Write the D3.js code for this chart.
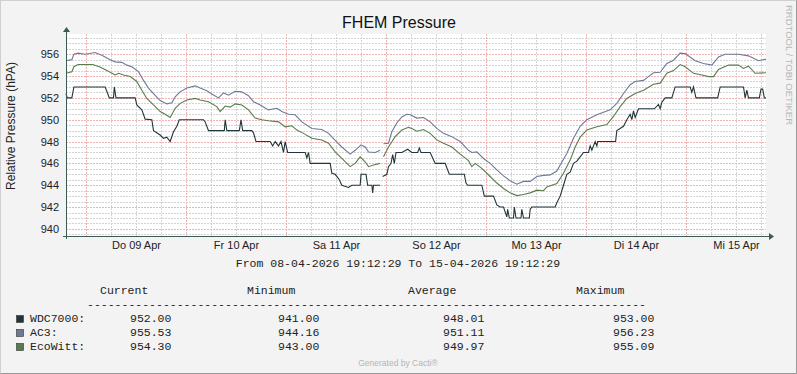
<!DOCTYPE html>
<html>
<head>
<meta charset="utf-8">
<script src="https://cdn.jsdelivr.net/npm/d3@7"></script>
<style>
  body { margin: 0; background: #f3f3f3; }
  svg { display: block; }
</style>
</head>
<body>
<script>

// time range of the graph (one week)
var startTime = new Date(2026, 3, 8, 19, 12, 29);
var endTime = new Date(2026, 3, 15, 19, 12, 29);

var dayLabels = ["Do 09 Apr", "Fr 10 Apr", "Sa 11 Apr", "So 12 Apr", "Mo 13 Apr", "Di 14 Apr", "Mi 15 Apr"];
var yTicks = [940, 942, 944, 946, 948, 950, 952, 954, 956];

var seriesNames = ["WDC7000:", "AC3:", "EcoWitt:"];
var seriesColors = ["#22363a", "#6d7a95", "#5b7b4e"];
var legendHeader = ["Current", "Minimum", "Average", "Maximum"];
var legendCurrent = ["952.00", "955.53", "954.30"];
var legendMinimum = ["941.00", "944.16", "943.00"];
var legendAverage = ["948.01", "951.11", "949.97"];
var legendMaximum = ["953.00", "956.23", "955.09"];

// [hours since start, hPa] - null marks missing data
var wdc7000 = [
	[0, 952.4], [0.3, 952], [1.4, 952], [1.9, 953], [9.4, 953], [10.4, 952], [11.4, 952],
	[11.6, 953], [12.0, 952], [16.6, 952], [17.0, 951.35], [18.2, 950.9], [19.0, 950.05],
	[20.6, 950], [21.0, 949], [22.6, 948.6], [23.4, 948.3], [24.2, 948.4], [25.0, 948],
	[25.8, 948.9], [26.6, 949.4], [27.2, 950], [33.0, 950], [33.4, 949.8], [34.2, 949],
	[38.0, 949], [38.2, 950], [38.6, 949], [41.6, 949], [42.0, 950], [42.4, 949], [44.6, 949],
	[45.0, 948.8], [45.6, 948], [49.0, 948], [49.6, 947.6], [50.2, 948], [51.0, 947.6],
	[51.6, 948], [52.2, 947], [52.6, 948], [53.2, 947], [57.4, 947], [57.8, 946.5],
	[58.2, 947], [58.6, 946], [63.4, 946], [63.8, 945.1], [64.6, 945], [65.6, 944.5],
	[66.2, 944], [67.8, 943.8], [68.6, 944], [70.6, 944], [70.8, 945], [72.0, 945],
	[72.4, 944], [73.4, 944], [73.6, 943.3], [73.8, 944], [75.4, 944],
	[75.8, null],
	[76.0, 944.8], [77.0, 945], [77.4, 945.7], [78.0, 946], [78.4, 946.8], [78.8, 946],
	[79.2, 947], [80.6, 947], [82.0, 947.3], [83.0, 947], [84.4, 947], [84.8, 947.4],
	[85.2, 947], [87.4, 947], [88.6, 946], [91.0, 946], [91.6, 945.4], [92.0, 945],
	[95.6, 945], [96.0, 944.2], [96.4, 944], [99.8, 944], [100.4, 943], [102.6, 943],
	[103.4, 942.2], [104.2, 942], [105.0, 942], [105.8, 941.1], [106.0, 941.8], [106.4, 941],
	[107.4, 941], [107.6, 942], [108.0, 941], [109.2, 941], [109.4, 941.8], [109.8, 941],
	[111.2, 941], [111.4, 941.8], [111.8, 942], [117.4, 942], [117.8, 942.4], [118.6, 943],
	[119.4, 944], [120.2, 945], [121.0, 945.2], [121.8, 946], [122.6, 946.2], [123.4, 946.6],
	[124.2, 947], [125.4, 947], [125.8, 947.6], [126.2, 947.2], [127.0, 948], [127.4, 947.6],
	[127.6, 948], [131.9, 948], [132.2, 949], [133.8, 949.4], [134.6, 950], [135.4, 950.5],
	[135.8, 950], [136.2, 950.8], [136.6, 950.2], [137.4, 951], [141.2, 951], [142.2, 951.4],
	[142.6, 951], [143.0, 951.6], [143.8, 952], [145.4, 952], [146.2, 953], [149.8, 953],
	[150.2, 952.5], [150.6, 953], [151.2, 952], [156.4, 952], [157.0, 953], [162.6, 953],
	[163.0, 952], [163.4, 952.7], [163.8, 952], [166.4, 952], [166.8, 952.8], [167.2, 952.8],
	[167.6, 952], [168, 952]
];

var ac3 = [
	[0, 955.4], [1.4, 955.5], [1.9, 956.0], [2.9, 956.1], [4.6, 956.0], [7.0, 956.15],
	[8.6, 955.9], [10.6, 955.5], [11.8, 955.3], [13.4, 955.25], [14.6, 955.0], [15.8, 954.85],
	[17.4, 954.4], [18.6, 953.6], [19.8, 952.9], [21.0, 952.4], [22.6, 951.75], [24.2, 951.45],
	[25.4, 951.55], [26.2, 952.1], [27.4, 952.55], [29.0, 952.9], [31.0, 953.1], [32.2, 952.9],
	[33.8, 952.65], [35.0, 952.35], [36.6, 952.0], [37.8, 952.45], [39.0, 952.25], [40.6, 952.6],
	[42.2, 952.55], [43.8, 952.2], [45.0, 951.65], [46.6, 951.35], [48.6, 950.9], [50.6, 951.05],
	[51.8, 950.75], [53.4, 950.5], [55.0, 950.45], [56.6, 949.8], [59.0, 949.2], [61.4, 949.1],
	[63.0, 948.75], [64.6, 948.1], [66.2, 947.5], [68.2, 946.85], [69.4, 947.2], [70.8, 947.7],
	[71.8, 947.5], [72.6, 947.05], [74.2, 947.0], [75.4, 947.2],
	[75.8, null],
	[76.2, 947.8], [77.4, 947.85], [78.2, 948.9], [79.4, 949.7], [80.6, 950.25], [81.8, 950.5],
	[82.6, 950.45], [84.2, 950.15], [85.8, 950.2], [87.4, 949.8], [89.0, 949.2], [90.6, 948.75],
	[92.6, 948.45], [94.6, 948.0], [96.6, 947.2], [97.4, 947.0], [98.6, 947.05], [100.2, 946.45],
	[101.8, 946.0], [103.4, 945.4], [105.0, 944.85], [106.6, 944.4], [108.2, 944.1], [109.8, 944.35],
	[111.4, 944.35], [113.0, 944.8], [114.6, 944.9], [116.2, 944.95], [117.8, 945.3], [118.6, 945.85],
	[120.2, 946.9], [121.8, 948.3], [123.4, 949.4], [125.0, 950.0], [127.4, 950.45], [130.6, 950.9],
	[132.2, 951.5], [133.8, 952.4], [135.4, 953.2], [136.6, 953.5], [138.6, 953.6], [139.8, 953.95],
	[141.0, 954.3], [142.6, 954.35], [144.2, 955.15], [145.8, 955.45], [147.4, 956.1], [148.6, 956.05],
	[151.0, 955.4], [153.0, 955.15], [155.0, 955.0], [156.6, 955.75], [158.2, 956.0], [161.4, 956.0],
	[163.8, 955.85], [166.2, 955.4], [168, 955.55]
];

var ecoWitt = [
	[0, 954.25], [1.4, 954.4], [1.9, 954.85], [2.9, 955.05], [6.4, 955.05], [8.0, 954.85],
	[9.6, 954.55], [11.8, 954.1], [12.6, 954.25], [13.8, 954.1], [15.4, 953.95], [17.0, 953.5],
	[18.2, 952.7], [19.4, 951.95], [21.0, 951.35], [22.6, 950.75], [23.8, 950.5], [25.0, 950.2],
	[26.2, 951.05], [27.4, 951.5], [29.0, 951.8], [31.0, 951.95], [32.2, 951.8], [34.2, 951.65],
	[36.2, 951.2], [37.0, 950.75], [38.2, 951.25], [39.4, 951.15], [40.6, 951.45], [42.2, 951.35],
	[43.8, 950.9], [45.4, 950.15], [47.0, 950.0], [48.6, 949.9], [51.0, 949.8], [52.6, 949.35],
	[54.2, 949.45], [55.4, 949.05], [57.0, 948.75], [59.0, 948.3], [61.4, 948.15], [63.0, 947.85],
	[64.6, 947.05], [66.2, 946.45], [68.2, 945.7], [69.4, 946.0], [70.6, 946.6], [71.8, 946.15],
	[72.6, 945.7], [73.8, 945.85], [75.4, 946.0],
	[75.8, null],
	[76.2, 946.6], [77.4, 947.5], [79.0, 948.45], [80.6, 949.05], [82.2, 949.3], [83.0, 949.2],
	[84.2, 948.95], [85.8, 949.1], [87.4, 948.75], [89.0, 948.15], [90.6, 947.85], [92.6, 947.5],
	[94.6, 946.85], [96.6, 946.25], [97.4, 945.7], [98.2, 946.0], [99.8, 945.55], [101.8, 944.8],
	[103.4, 944.2], [105.0, 943.7], [106.6, 943.3], [108.2, 943.05], [109.8, 943.15], [111.4, 943.3],
	[113.0, 943.55], [114.6, 943.5], [115.4, 943.85], [117.8, 944.15], [119.4, 945.1], [121.0, 946.3],
	[122.2, 947.5], [123.4, 948.4], [125.0, 949.05], [127.4, 949.35], [129.8, 949.55], [131.4, 950.3],
	[133.0, 951.2], [134.6, 951.95], [136.6, 952.4], [138.6, 952.7], [141.0, 953.25], [142.6, 953.35],
	[144.2, 954.25], [145.8, 954.5], [147.4, 955.05], [148.6, 954.85], [150.6, 954.25], [152.6, 954.1],
	[154.2, 953.95], [155.4, 953.95], [156.6, 954.6], [159.0, 955.0], [161.4, 955.0], [162.6, 954.7],
	[163.8, 954.9], [165.4, 954.25], [168, 954.3]
];

var seriesData = [wdc7000, ac3, ecoWitt];

var width = 797, height = 374;
var plot = {left: 66, right: 766, top: 34, bottom: 236};

var svg = d3.select("body").append("svg")
	.attr("width", width)
	.attr("height", height);

// frame
svg.append("rect")
	.attr("x", 0.5).attr("y", 0.5)
	.attr("width", width - 1).attr("height", height - 1)
	.style("fill", "#f3f3f3")
	.style("stroke", "#cfcfcf");
svg.append("path")
	.attr("d", "M" + (width - 0.5) + ",0.5V" + (height - 0.5) + "H0.5")
	.style("fill", "none")
	.style("stroke", "#9a9a9a");

var x = d3.scaleTime()
	.domain([startTime, endTime])
	.range([plot.left, plot.right]);

var y = d3.scaleLinear()
	.domain([939.35, 957.85])
	.range([plot.bottom, plot.top]);

var toDate = function(h) { return new Date(+startTime + h * 3600e3); };

svg.append("rect")
	.attr("x", plot.left).attr("y", plot.top)
	.attr("width", plot.right - plot.left)
	.attr("height", plot.bottom - plot.top)
	.style("fill", "#ffffff");

var grid = svg.append("g");
var minorColor = "#d4d4d4", majorColor = "#f0b3b3";

// minor grid
grid.selectAll(".hmin")
	.data(d3.range(939.5, 957.6, 0.5).filter(function(v) { return v % 2 !== 0; }))
  .enter().append("line")
	.attr("x1", plot.left).attr("x2", plot.right)
	.attr("y1", function(d) { return Math.round(y(d)) + 0.5; })
	.attr("y2", function(d) { return Math.round(y(d)) + 0.5; })
	.style("stroke", minorColor)
	.style("stroke-dasharray", "2,1");

var sixHours = x.ticks(d3.timeHour.every(6)).filter(function(d) { return d.getHours() !== 0; });
grid.selectAll(".vmin")
	.data(sixHours)
  .enter().append("line")
	.attr("y1", plot.top).attr("y2", plot.bottom)
	.attr("x1", function(d) { return Math.round(x(d)) + 0.5; })
	.attr("x2", function(d) { return Math.round(x(d)) + 0.5; })
	.style("stroke", minorColor)
	.style("stroke-dasharray", "2,1");

// major grid
grid.selectAll(".hmaj")
	.data(yTicks)
  .enter().append("line")
	.attr("x1", plot.left).attr("x2", plot.right)
	.attr("y1", function(d) { return Math.round(y(d)) + 0.5; })
	.attr("y2", function(d) { return Math.round(y(d)) + 0.5; })
	.style("stroke", majorColor)
	.style("stroke-dasharray", "2,1");

grid.selectAll(".vmaj")
	.data(x.ticks(d3.timeDay.every(1)))
  .enter().append("line")
	.attr("y1", plot.top).attr("y2", plot.bottom)
	.attr("x1", function(d) { return Math.round(x(d)) + 0.5; })
	.attr("x2", function(d) { return Math.round(x(d)) + 0.5; })
	.style("stroke", majorColor)
	.style("stroke-dasharray", "2,1");

// data lines
var line = d3.line()
	.defined(function(d) { return d[1] !== null; })
	.x(function(d) { return x(toDate(d[0])); })
	.y(function(d) { return y(d[1]); });

svg.selectAll(".series")
	.data(seriesData)
  .enter().append("path")
	.attr("d", line)
	.style("fill", "none")
	.style("stroke", function(d, i) { return seriesColors[i]; })
	.style("stroke-width", 1.1);

// axes
var axisColor = "#3d5a55";
svg.append("line")
	.attr("x1", plot.left + 0.5).attr("x2", plot.left + 0.5)
	.attr("y1", plot.bottom + 3).attr("y2", plot.top - 2)
	.style("stroke", axisColor);
svg.append("path")
	.attr("d", "M" + (plot.left - 3) + "," + (plot.top - 2) + "L" + (plot.left + 0.5) + "," + (plot.top - 7) + "L" + (plot.left + 4) + "," + (plot.top - 2) + "Z")
	.style("fill", axisColor);
svg.append("line")
	.attr("x1", plot.left - 3).attr("x2", plot.right + 3)
	.attr("y1", plot.bottom + 0.5).attr("y2", plot.bottom + 0.5)
	.style("stroke", axisColor);
svg.append("path")
	.attr("d", "M" + (plot.right + 3) + "," + (plot.bottom - 3) + "L" + (plot.right + 8) + "," + (plot.bottom + 0.5) + "L" + (plot.right + 3) + "," + (plot.bottom + 4) + "Z")
	.style("fill", axisColor);

var yAxis = svg.append("g")
	.attr("transform", "translate(" + plot.left + ",0)")
	.call(d3.axisLeft(y).tickValues(yTicks).tickSize(0).tickPadding(7).tickFormat(d3.format("d")));
yAxis.select(".domain").remove();
yAxis.selectAll("text")
	.style("font-family", "'Liberation Sans', Arial, sans-serif")
	.style("font-size", "11px")
	.style("fill", "#222");

var xAxis = svg.append("g")
	.attr("transform", "translate(0," + plot.bottom + ")")
	.call(d3.axisBottom(x)
		.tickValues(dayLabels.map(function(d, i) { return new Date(2026, 3, 9 + i, 12); }))
		.tickSize(0).tickPadding(5)
		.tickFormat(function(d, i) { return dayLabels[i]; }));
xAxis.select(".domain").remove();
xAxis.selectAll("text")
	.style("font-family", "'Liberation Sans', Arial, sans-serif")
	.style("font-size", "11px")
	.style("fill", "#222");

// titles
svg.append("text")
	.attr("x", 399).attr("y", 28)
	.attr("text-anchor", "middle")
	.style("font-family", "'Liberation Sans', Arial, sans-serif")
	.style("font-size", "16px")
	.style("fill", "#111")
	.text("FHEM Pressure");

svg.append("text")
	.attr("transform", "translate(15,126) rotate(-90)")
	.attr("text-anchor", "middle")
	.style("font-family", "'Liberation Sans', Arial, sans-serif")
	.style("font-size", "12px")
	.style("fill", "#222")
	.text("Relative Pressure (hPA)");

svg.append("text")
	.attr("transform", "translate(786,5) rotate(90)")
	.style("font-family", "'Liberation Sans', Arial, sans-serif")
	.style("font-size", "9.5px")
	.style("fill", "#b8b8b8")
	.text("RRDTOOL / TOBI OETIKER");

var mono = "'Liberation Mono', 'Courier New', monospace";

svg.append("text")
	.attr("x", 398).attr("y", 267)
	.attr("text-anchor", "middle")
	.style("font-family", mono)
	.style("font-size", "11.5px")
	.style("fill", "#222")
	.text("From 08-04-2026 19:12:29 To 15-04-2026 19:12:29");

// legend
var headerX = [100, 247, 408, 576];
svg.selectAll(".lh")
	.data(legendHeader)
  .enter().append("text")
	.attr("x", function(d, i) { return headerX[i]; })
	.attr("y", 294)
	.style("font-family", mono)
	.style("font-size", "11.5px")
	.style("fill", "#222")
	.text(function(d) { return d; });

svg.append("text")
	.attr("x", 87).attr("y", 307.5)
	.style("font-family", mono)
	.style("font-size", "11.5px")
	.style("fill", "#222")
	.text(d3.range(81).map(function() { return "-"; }).join(""));

var colX = [130, 278, 443, 613];
var rows = svg.selectAll(".lrow")
	.data(seriesNames)
  .enter().append("g")
	.attr("transform", function(d, i) { return "translate(0," + (322 + i * 14) + ")"; });

rows.append("rect")
	.attr("x", 16.5).attr("y", -6.5)
	.attr("width", 7).attr("height", 7)
	.style("fill", function(d, i) { return seriesColors[i]; })
	.style("stroke", "#333")
	.style("stroke-width", 0.6);

rows.append("text")
	.attr("x", 30)
	.style("font-family", mono)
	.style("font-size", "11.5px")
	.style("fill", "#222")
	.text(function(d) { return d; });

[legendCurrent, legendMinimum, legendAverage, legendMaximum].forEach(function(col, c) {
	rows.append("text")
		.attr("x", colX[c])
		.style("font-family", mono)
		.style("font-size", "11.5px")
		.style("fill", "#222")
		.text(function(d, i) { return col[i]; });
});

svg.append("text")
	.attr("x", 398).attr("y", 366)
	.attr("text-anchor", "middle")
	.style("font-family", "'Liberation Sans', Arial, sans-serif")
	.style("font-size", "8.5px")
	.style("fill", "#b5b5b5")
	.text("Generated by Cacti®");

</script>
</body>
</html>
